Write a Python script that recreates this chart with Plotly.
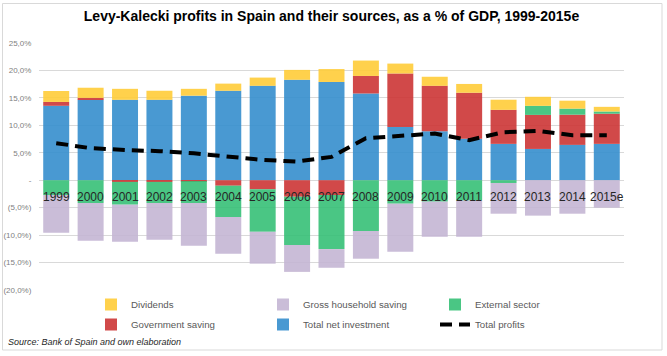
import plotly.graph_objects as go

years = ["1999", "2000", "2001", "2002", "2003", "2004", "2005", "2006", "2007",
         "2008", "2009", "2010", "2011", "2012", "2013", "2014", "2015e"]

total_net_investment = [13.56, 14.65, 14.65, 14.65, 15.4, 16.3, 17.2, 18.3, 17.9,
                        15.8, 9.7, 8.9, 7.54, 6.62, 5.7, 6.44, 6.62]
government_saving = [0.7, 0.35, -0.3, -0.3, -0.15, -1.0, -1.65, -3.0, -2.7,
                     3.2, 9.75, 8.3, 8.4, 6.2, 6.2, 5.5, 5.5]
external_sector = [-2.7, -4.15, -4.15, -3.85, -4.0, -5.7, -7.75, -8.8, -9.85,
                   -9.25, -4.27, -3.9, -3.7, -0.5, 1.65, 1.1, 0.4]
dividends = [2.0, 1.85, 2.0, 1.65, 1.25, 1.3, 1.5, 1.8, 2.35,
             2.8, 1.8, 1.65, 1.6, 1.85, 1.65, 1.45, 0.85]
gross_household_saving = [-6.86, -6.9, -6.75, -6.7, -7.8, -6.7, -5.8, -4.9, -3.4,
                          -5.05, -8.75, -6.4, -6.6, -5.6, -6.45, -6.1, -5.0]
total_profits = [6.75, 5.84, 5.5, 5.3, 4.9, 4.3, 3.7, 3.4, 4.25,
                 7.66, 8.1, 8.5, 7.3, 8.75, 9.0, 8.2, 8.2]

tick_vals = [-20, -15, -10, -5, 0, 5, 10, 15, 20, 25]
tick_text = ["(20,0%)", "(15,0%)", "(10,0%)", "(5,0%)", "-",
             "5,0%", "10,0%", "15,0%", "20,0%", "25,0%"]

BLUE = "rgb(54,143,206)"
RED = "rgb(205,54,54)"
GREEN = "rgb(55,192,119)"
YELLOW = "rgb(255,205,57)"
PURPLE = "rgb(197,182,212)"

FONT = "Liberation Sans"

fig = go.Figure()

def add_bar(name, vals, color, legend, rank):
    fig.add_trace(go.Bar(
        x=years, y=vals, name=name, marker=dict(color=color, line=dict(width=0)),
        opacity=0.9, legend=legend, legendrank=rank,
    ))

add_bar("Total net investment", total_net_investment, BLUE, "legend2", 5)
add_bar("Government saving", government_saving, RED, "legend2", 4)
add_bar("External sector", external_sector, GREEN, "legend", 3)
add_bar("Dividends", dividends, YELLOW, "legend", 1)
add_bar("Gross household saving", gross_household_saving, PURPLE, "legend", 2)

fig.add_trace(go.Scatter(
    x=years, y=total_profits, name="Total profits", mode="lines",
    line=dict(color="black", width=4, dash="12px,7px"),
    legend="legend2", legendrank=6,
))

# category labels drawn next to the zero line (category serial index on the x axis)
for i, yr in enumerate(years):
    fig.add_annotation(x=i, y=-3.0, xref="x", yref="y", text=yr, showarrow=False,
                       font=dict(family=FONT, size=12, color="#262626"))

L, R, T, B = 39, 43, 43, 66
W, H = 667, 356
pw, ph = W - L - R, H - T - B

def px_x(x):
    return (x - L) / pw

def px_y(y):
    return (H - B - y) / ph

fig.add_annotation(x=px_x(6), y=px_y(342), xref="paper", yref="paper",
                   xanchor="left", yanchor="middle", showarrow=False,
                   text="<i>Source: Bank of Spain and own elaboration</i>",
                   font=dict(family=FONT, size=9, color="#262626"))

fig.add_shape(type="rect", xref="paper", yref="paper",
              x0=px_x(2.5), x1=px_x(662), y0=px_y(350), y1=px_y(3.5),
              line=dict(color="#d9d9d9", width=1), fillcolor="rgba(0,0,0,0)", layer="below")

legend_common = dict(
    orientation="h", xanchor="left", yanchor="middle",
    entrywidth=127, entrywidthmode="pixels", bgcolor="rgba(0,0,0,0)",
    font=dict(family=FONT, size=9.7, color="#595959"),
    itemclick=False, itemdoubleclick=False, traceorder="normal",
)

fig.update_layout(
    width=W, height=H,
    margin=dict(l=L, r=R, t=T, b=B, autoexpand=False),
    paper_bgcolor="white", plot_bgcolor="white",
    barmode="relative", bargap=0.245,
    title=dict(text="<b>Levy-Kalecki profits in Spain and their sources, as a % of GDP, 1999-2015e</b>",
               x=0.497, xanchor="center", y=1 - 16 / H, yanchor="middle",
               font=dict(family=FONT, size=14, color="black")),
    font=dict(family=FONT),
    xaxis=dict(type="category", range=[-0.5, len(years) - 0.5], showticklabels=False,
               showgrid=False, zeroline=False, showline=False, ticks="", automargin=False),
    yaxis=dict(range=[-20, 25], tickvals=tick_vals, ticktext=tick_text, automargin=False,
               showgrid=True, gridcolor="#d9d9d9", gridwidth=1, zeroline=False,
               showline=False, ticks="outside", ticklen=5, tickcolor="rgba(0,0,0,0)",
               tickfont=dict(family=FONT, size=8, color="#7f7f7f")),
    legend=dict(x=px_x(91), y=px_y(304.5), **legend_common),
    legend2=dict(x=px_x(91), y=px_y(324.5), **legend_common),
    showlegend=True,
)

fig.write_html("out.html", config={"displayModeBar": False},
               post_script="document.body.style.margin='0';document.body.style.padding='0';")
